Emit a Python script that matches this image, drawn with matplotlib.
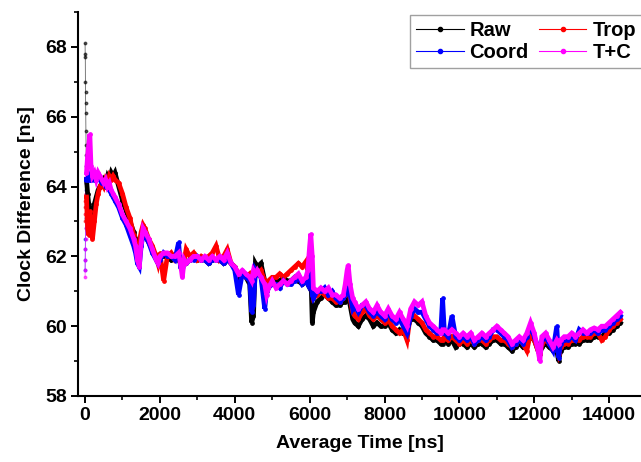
import matplotlib
matplotlib.use("Agg")
import matplotlib.pyplot as plt
from matplotlib.lines import Line2D
from matplotlib.ticker import MultipleLocator

plt.rcParams['font.family'] = ['Liberation Sans', 'DejaVu Sans']
plt.rcParams['font.weight'] = 'bold'

series_names = ["Raw", "Trop", "Coord", "T+C"]
series_colors = ["#000000", "#ff0000", "#0000ff", "#ff00ff"]

# start-up samples (receiver convergence)
t_early = [2, 5, 8, 11, 14, 17, 20, 24, 28, 32, 36]
raw_early = [68.1, 67.8, 67.7, 67.0, 66.7, 66.4, 66.1, 65.6, 65.2, 64.9, 64.6]
trop_early = [63.0, 63.2, 63.4, 63.6, 63.7, 63.8, 63.7, 63.6, 63.7, 63.8, 63.7]
coord_early = [61.6, 61.9, 62.2, 62.5, 62.8, 63.1, 63.4, 63.7, 63.9, 64.1, 64.2]
tc_early = [61.4, 61.6, 61.9, 62.2, 62.5, 62.8, 63.2, 63.5, 63.8, 64.1, 64.3]

# averaging time [ns]
t = [40, 70, 100, 130, 160, 200, 250, 300, 350, 400,
     450, 500, 550, 600, 650, 700, 750, 800, 900, 1000,
     1100, 1200, 1300, 1350, 1400, 1450, 1500, 1550, 1600, 1700,
     1800, 1900, 1950, 2000, 2100, 2200, 2300, 2400, 2500, 2550,
     2600, 2650, 2700, 2800, 2900, 3000, 3100, 3200, 3300, 3400,
     3500, 3600, 3700, 3800, 3900, 4000, 4100, 4200, 4300, 4400,
     4450, 4500, 4550, 4600, 4700, 4800, 4850, 4900, 5000, 5100,
     5200, 5300, 5400, 5500, 5600, 5700, 5800, 5900, 5950, 6000,
     6030, 6070, 6100, 6200, 6300, 6400, 6500, 6600, 6700, 6800,
     6900, 6950, 7000, 7030, 7080, 7150, 7200, 7300, 7400, 7500,
     7600, 7700, 7800, 7900, 8000, 8100, 8200, 8300, 8400, 8500,
     8600, 8700, 8800, 8900, 9000, 9100, 9200, 9300, 9400, 9500,
     9550, 9600, 9700, 9800, 9900, 10000, 10100, 10200, 10300, 10400,
     10500, 10600, 10700, 10800, 10900, 11000, 11100, 11200, 11300, 11400,
     11500, 11600, 11700, 11800, 11900, 12000, 12100, 12150, 12200, 12300,
     12400, 12500, 12600, 12650, 12700, 12800, 12900, 13000, 13100, 13200,
     13300, 13400, 13500, 13600, 13700, 13800, 13900, 14000, 14100, 14200,
     14300]

raw = [64.2, 63.8, 63.5, 63.3, 63.1, 63.2, 63.5, 63.7, 63.9, 64.0,
       64.1, 64.2, 64.1, 64.3, 64.2, 64.4, 64.3, 64.4, 64.0, 63.6,
       63.3, 63.0, 62.7, 62.5, 62.2, 62.3, 62.6, 62.7, 62.6, 62.4,
       62.2, 62.0, 61.9, 62.0, 62.0, 62.0, 61.9, 62.0, 61.9, 61.8,
       61.9, 61.9, 61.8, 61.9, 62.0, 61.9, 61.9, 61.9, 61.8, 61.9,
       61.9, 61.9, 61.8, 61.9, 61.8, 61.7, 61.3, 61.5, 61.4, 61.2,
       60.1, 60.3, 61.8, 61.7, 61.8, 61.3, 61.0, 61.2, 61.3, 61.3,
       61.3, 61.4, 61.3, 61.3, 61.4, 61.3, 61.2, 61.3, 61.2, 61.5,
       61.6, 60.1, 60.4, 60.7, 60.8, 60.9, 60.8, 60.7, 60.6, 60.6,
       60.7, 60.7, 60.8, 60.9, 60.6, 60.2, 60.1, 60.0, 60.2, 60.3,
       60.2, 60.0, 60.1, 60.0, 60.0, 60.1, 59.9, 59.8, 59.9, 59.8,
       59.9, 60.2, 60.2, 60.1, 60.0, 59.8, 59.7, 59.6, 59.6, 59.5,
       59.5, 59.6, 59.5, 59.6, 59.4, 59.5, 59.5, 59.4, 59.5, 59.4,
       59.5, 59.5, 59.4, 59.5, 59.6, 59.6, 59.5, 59.5, 59.4, 59.3,
       59.4, 59.5, 59.4, 59.5, 59.7, 59.6, 59.3, 59.2, 59.4, 59.5,
       59.4, 59.3, 59.3, 59.0, 59.3, 59.4, 59.4, 59.5, 59.5, 59.5,
       59.6, 59.6, 59.6, 59.7, 59.7, 59.7, 59.8, 59.8, 59.9, 60.0,
       60.1]

trop = [63.7, 62.8, 62.6, 63.3, 62.9, 62.5, 63.0, 63.5, 63.8, 64.0,
        64.1, 64.0, 64.2, 64.1, 64.3, 64.2, 64.3, 64.2, 64.1, 63.8,
        63.4, 63.1, 62.6, 62.3, 62.1, 62.4, 62.7, 62.9, 62.8, 62.5,
        62.3, 62.0, 61.8, 62.1, 61.3, 62.0, 62.1, 61.9, 62.0, 61.9,
        61.8, 61.9, 62.2, 62.0, 62.1, 61.9, 62.0, 61.9, 62.0, 62.1,
        62.3, 61.9, 62.0, 62.2, 61.8, 61.7, 61.5, 61.5, 61.4, 61.5,
        61.4, 61.5, 61.6, 61.5, 61.6, 61.3, 61.1, 61.3, 61.4, 61.4,
        61.5, 61.4, 61.5, 61.6, 61.7, 61.8, 61.7, 61.85, 61.6, 61.9,
        62.1, 61.0, 60.8, 60.9, 61.0, 60.9, 60.8, 60.8, 60.7, 60.7,
        60.8, 60.9, 61.2, 61.4, 60.8, 60.4, 60.3, 60.2, 60.4, 60.5,
        60.3, 60.2, 60.3, 60.2, 60.1, 60.2, 60.0, 59.9, 59.8, 59.9,
        59.6, 60.4, 60.3, 60.2, 60.1, 59.9, 59.8, 59.7, 59.7, 59.6,
        59.6, 59.7, 59.6, 59.7, 59.6, 59.5, 59.6, 59.5, 59.6, 59.5,
        59.6, 59.6, 59.5, 59.6, 59.7, 59.7, 59.6, 59.6, 59.5, 59.4,
        59.5, 59.6, 59.5, 59.3, 59.8, 59.6, 59.3, 59.2, 59.5, 59.6,
        59.5, 59.4, 59.4, 59.2, 59.4, 59.5, 59.5, 59.6, 59.6, 59.6,
        59.7, 59.7, 59.7, 59.8, 59.8, 59.6, 59.7, 59.9, 60.0, 60.1,
        60.2]

coord = [64.2, 64.2, 64.3, 64.2, 64.2, 64.3, 64.2, 64.2, 64.3, 64.2,
         64.1, 64.1, 64.0, 64.0, 63.9, 63.8, 63.7, 63.6, 63.4, 63.1,
         62.9, 62.6, 62.3, 62.1, 61.8, 61.7, 62.3, 62.6, 62.6, 62.4,
         62.1, 61.9, 61.8, 61.9, 62.1, 62.0, 62.0, 61.9, 62.4, 61.7,
         61.6, 61.8, 61.8, 61.9, 61.9, 62.0, 61.9, 61.9, 61.8, 61.9,
         61.9, 61.9, 61.8, 61.9, 61.8, 61.6, 60.9, 61.5, 61.4, 61.3,
         60.4, 60.6, 61.6, 61.5, 61.4, 60.5, 61.0, 61.1, 61.2, 61.2,
         61.1, 61.3, 61.2, 61.2, 61.3, 61.4, 61.2, 61.3, 61.2, 61.6,
         61.8, 60.9, 60.8, 61.0, 61.0, 61.1, 60.9, 61.0, 60.8, 60.7,
         60.8, 60.9, 61.1, 61.3, 60.9, 60.5, 60.6, 60.4, 60.6, 60.6,
         60.4, 60.3, 60.4, 60.3, 60.2, 60.4, 60.2, 60.1, 60.2, 60.0,
         59.8, 60.3, 60.5, 60.4, 60.4, 60.2, 60.0, 59.9, 59.8, 59.8,
         60.8, 59.8, 59.7, 60.3, 59.7, 59.6, 59.7, 59.6, 59.7, 59.5,
         59.6, 59.7, 59.6, 59.7, 59.9, 59.9, 59.8, 59.7, 59.6, 59.4,
         59.5, 59.6, 59.5, 59.7, 60.0, 59.7, 59.4, 59.3, 59.6, 59.7,
         59.5, 59.3, 60.0, 59.1, 59.5, 59.6, 59.6, 59.7, 59.6, 59.9,
         59.8, 59.8, 59.8, 59.9, 59.8, 59.9, 59.9, 60.0, 60.1, 60.2,
         60.3]

tc = [64.4, 64.9, 65.2, 65.5, 64.6, 64.3, 64.4, 64.2, 64.4, 64.3,
      64.2, 64.1, 64.2, 64.0, 64.1, 63.9, 63.8, 63.7, 63.5, 63.2,
      63.0, 62.8, 62.5, 62.3, 61.9, 61.7, 62.4, 62.8, 62.7, 62.5,
      62.2, 61.9, 61.8, 62.0, 62.1, 62.1, 62.0, 62.0, 62.1, 61.8,
      61.4, 61.9, 61.8, 61.9, 62.0, 62.0, 61.9, 62.0, 61.9, 62.0,
      61.9, 62.0, 61.9, 62.1, 61.8, 61.7, 61.5, 61.6, 61.5, 61.4,
      61.3, 61.6, 61.5, 61.6, 61.4, 61.2, 60.9, 61.1, 61.3, 61.1,
      61.2, 61.3, 61.2, 61.3, 61.4, 61.5, 61.3, 61.4, 61.6, 62.3,
      62.65, 62.0, 61.1, 61.0, 61.1, 61.0, 61.1, 60.9, 60.9, 60.8,
      60.9, 61.2, 61.6, 61.75, 61.2, 60.8, 60.7, 60.5, 60.6, 60.7,
      60.5, 60.4, 60.6, 60.4, 60.3, 60.5, 60.3, 60.2, 60.4, 60.2,
      60.0, 60.5, 60.7, 60.6, 60.7, 60.3, 60.1, 60.0, 59.9, 59.8,
      59.9, 59.9, 59.8, 59.9, 59.8, 59.7, 59.8, 59.7, 59.8, 59.6,
      59.7, 59.8, 59.7, 59.8, 59.9, 60.0, 59.9, 59.8, 59.7, 59.5,
      59.6, 59.7, 59.6, 59.8, 60.1, 59.8, 59.3, 59.0, 59.7, 59.8,
      59.6, 59.4, 59.6, 59.5, 59.6, 59.7, 59.7, 59.8, 59.7, 59.8,
      59.9, 59.8, 59.9, 59.95, 59.9, 60.0, 60.0, 60.1, 60.2, 60.3,
      60.4]

x_ticks = [0, 2000, 4000, 6000, 8000, 10000, 12000, 14000]
y_ticks = [58, 60, 62, 64, 66, 68]

fig = plt.figure(figsize=(6.41, 4.62), dpi=100)
ax = fig.add_axes([78 / 641, 1 - 396 / 462, 563 / 641, 384 / 462])

early_sets = [raw_early, trop_early, coord_early, tc_early]
main_sets = [raw, trop, coord, tc]
for name, color, ye, ym in zip(series_names, series_colors, early_sets, main_sets):
    # thin dotted trace over the start-up samples, heavy trace afterwards
    ax.plot(t_early + t[:1], ye + ym[:1], color=color, lw=0.6, alpha=0.6,
            marker='o', ms=1.8, mec=color, mfc=color, zorder=2)
    ax.plot(t, ym, color=color, lw=3.4, solid_joinstyle='miter',
            marker='o', ms=2.4, zorder=3)

ax.set_xlim(-187, 14850)
ax.set_ylim(58, 69)
ax.set_xticks(x_ticks)
ax.set_yticks(y_ticks)
ax.xaxis.set_minor_locator(MultipleLocator(1000))
ax.yaxis.set_minor_locator(MultipleLocator(1))

for side in ("top", "right"):
    ax.spines[side].set_visible(False)
for side in ("left", "bottom"):
    ax.spines[side].set_linewidth(1.5)

ax.tick_params(axis='both', which='major', direction='out', length=5, width=1.4,
               labelsize=14, pad=3)
ax.tick_params(axis='both', which='minor', direction='out', length=3, width=1.2)
for lab in ax.get_xticklabels() + ax.get_yticklabels():
    lab.set_fontweight('bold')

ax.set_xlabel("Average Time [ns]", fontsize=14, fontweight='bold', labelpad=8)
ax.set_ylabel("Clock Difference [ns]", fontsize=14, fontweight='bold', labelpad=7)

handles = [Line2D([0], [0], color=c, lw=0.8, marker='o', ms=3) for c in series_colors]
order = [0, 2, 1, 3]
leg = ax.legend([handles[i] for i in order], [series_names[i] for i in order],
                ncol=2, loc='upper left', bbox_to_anchor=(0.59, 0.993),
                frameon=True, fancybox=False, edgecolor='#888888',
                prop={'weight': 'bold', 'size': 14.5}, handlelength=2.35,
                handletextpad=0.3, columnspacing=0.5, labelspacing=0.15,
                borderpad=0.3, borderaxespad=0.0, numpoints=1)
leg.get_frame().set_linewidth(1.0)

fig.savefig("out.png", dpi=100)
